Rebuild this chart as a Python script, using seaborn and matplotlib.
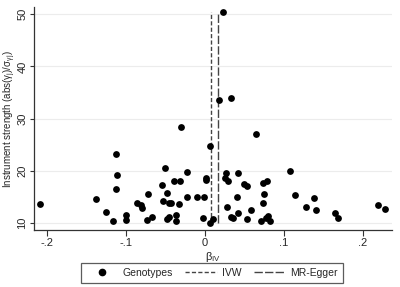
import numpy as np
import pandas as pd
import matplotlib
matplotlib.use("Agg")
import matplotlib.pyplot as plt
from matplotlib.lines import Line2D
import seaborn as sns

# Ratio estimates (beta_IV) and instrument strength for each genotype
beta_iv = [-0.209, -0.112, -0.111, -0.112, -0.138, -0.125, -0.117, -0.100, -0.100,
           -0.0505, -0.0227, -0.0395, -0.0315, -0.0543, -0.0484, -0.072, -0.0231,
           -0.0101, -0.0009, 0.001, 0.002, -0.086, -0.081, -0.080, -0.053, -0.046,
           -0.043, -0.033, -0.0366, -0.0366, -0.048, -0.046, -0.067, -0.0736, -0.003,
           0.007, 0.0097, 0.0067, 0.0265, 0.0252, 0.0294, 0.042, 0.0496, 0.0538,
           0.0412, 0.0278, 0.058, 0.042, 0.0328, 0.0362, 0.053, 0.0732, 0.079,
           0.0749, 0.074, 0.080, 0.077, 0.082, 0.0707, 0.108, 0.114, 0.128, 0.138,
           0.141, 0.165, 0.168, 0.219, 0.228, -0.0303, 0.018, 0.0328, 0.0223, 0.0644]
strength = [13.7, 23.2, 19.2, 16.5, 14.65, 12.1, 10.4, 11.55, 10.45,
            20.5, 19.75, 18.1, 18.1, 17.3, 15.7, 15.6, 15.0,
            15.0, 15.0, 18.2, 18.6, 13.9, 13.5, 12.9, 14.2, 13.9,
            13.9, 13.7, 11.6, 10.3, 10.8, 11.1, 11.15, 10.5, 11.0,
            24.7, 10.8, 10.0, 19.5, 18.6, 18.1, 19.5, 17.4, 17.0,
            15.0, 13.1, 12.5, 11.9, 11.15, 11.0, 10.65, 17.6, 18.0,
            15.6, 13.75, 11.4, 10.9, 10.3, 10.3, 19.9, 15.3, 13.1, 14.8,
            12.5, 11.9, 11.0, 13.5, 12.7, 28.4, 33.5, 33.9, 50.5, 27.1]

ivw_estimate = 0.0076
egger_estimate = 0.0168

xticks = [-0.2, -0.1, 0, 0.1, 0.2]
xtick_labels = ["-.2", "-.1", "0", ".1", ".2"]
yticks = [10, 20, 30, 40, 50]

df = pd.DataFrame({"beta": beta_iv, "strength": strength})

sns.set_style("white")
plt.rcParams["font.family"] = ["Liberation Sans", "DejaVu Sans"]

fig = plt.figure(figsize=(4.0, 2.87), dpi=100)
ax = fig.add_axes([0.084, 0.199, 0.896, 0.775])

for yv in yticks:
    ax.axhline(yv, color="#ececec", lw=0.8, zorder=0)

sns.scatterplot(data=df, x="beta", y="strength", color="black", s=24,
                edgecolor="black", linewidth=0, ax=ax, zorder=3)

lo, hi = min(strength), max(strength)
ax.plot([ivw_estimate, ivw_estimate], [lo, hi], color="#444444", lw=1.0,
        dashes=(3, 1.6), zorder=2)
ax.plot([egger_estimate, egger_estimate], [lo, hi], color="#444444", lw=1.0,
        dashes=(6, 1.6), zorder=2)

ax.set_xlim(-0.217, 0.237)
ax.set_ylim(8.65, 51.3)
ax.set_xticks(xticks)
ax.set_xticklabels(xtick_labels)
ax.set_yticks(yticks)
ax.set_yticklabels([str(v) for v in yticks], rotation=90, va="center")
ax.tick_params(axis="x", labelsize=8, length=4, width=0.8, color="#333333",
               direction="out", bottom=True, pad=2)
ax.tick_params(axis="y", labelsize=8, length=3, width=0.8, color="#333333",
               direction="out", left=True, pad=1.5)

for side in ["top", "right"]:
    ax.spines[side].set_visible(False)
for side in ["left", "bottom"]:
    ax.spines[side].set_color("#333333")
    ax.spines[side].set_linewidth(0.9)

ax.set_xlabel(r"$\mathregular{\beta_{IV}}$", fontsize=8, labelpad=1)
ax.set_ylabel(r"Instrument strength (abs($\mathregular{\gamma_j}$)/$\mathregular{\sigma_{\gamma j}}$)",
              fontsize=7)
ax.yaxis.set_label_coords(-0.044, 0.5)

handles = [
    Line2D([], [], marker="o", color="black", linestyle="none", markersize=4.5),
    Line2D([], [], color="#444444", lw=1.0, dashes=(3, 1.6)),
    Line2D([], [], color="#444444", lw=1.0, dashes=(6, 1.6)),
]
leg = fig.legend(handles, ["Genotypes", "IVW", "MR-Egger"], loc="center",
                 bbox_to_anchor=(0.53, 0.049), ncol=3, fontsize=7.5, frameon=True,
                 fancybox=False, edgecolor="#333333", handlelength=3.0,
                 columnspacing=1.2, handletextpad=0.5, borderpad=0.45)
leg.get_frame().set_linewidth(0.9)

fig.savefig("out.png", dpi=100)
